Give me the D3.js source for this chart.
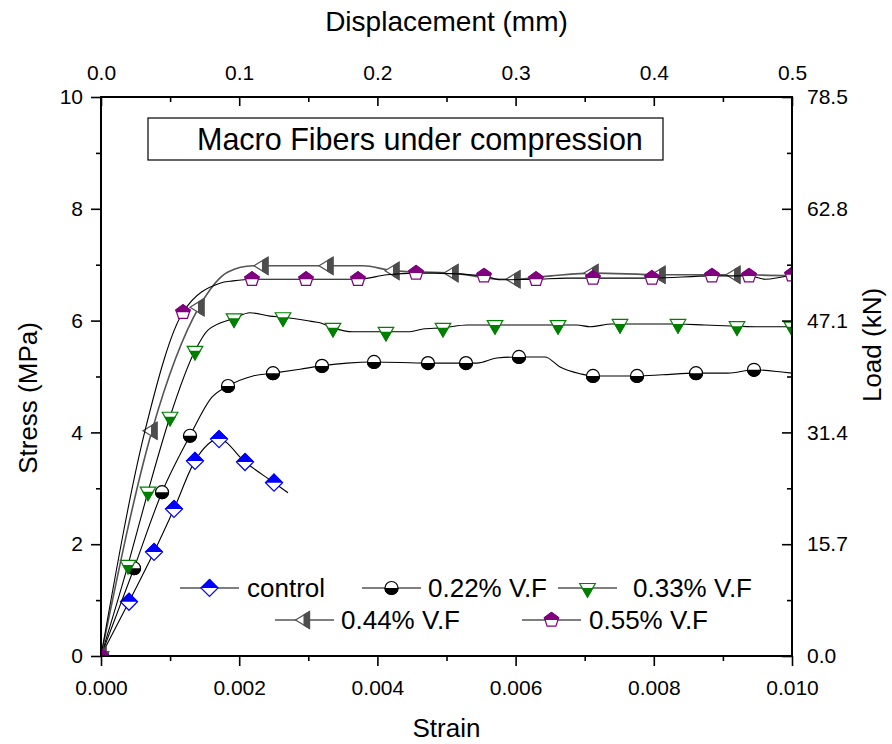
<!DOCTYPE html>
<html>
<head>
<meta charset="utf-8">
<script src="https://cdn.jsdelivr.net/npm/d3@7"></script>
<style>
body { margin: 0; background: #fff; }
text { font-family: "Liberation Sans", Arial, sans-serif; fill: #000; }
</style>
</head>
<body>
<script>
// [strain, stress (MPa), marker?]
const control = [
  [0, 0, 1], [0.000405, 0.97, 1], [0.000767, 1.86, 1], [0.001056, 2.63, 1],
  [0.00136, 3.49, 1], [0.001708, 3.88, 1], [0.002084, 3.47, 1], [0.002504, 3.10, 1],
  [0.002706, 2.92, 0]
];
const vf022 = [
  [0, 0, 1], [0.000478, 1.57, 1], [0.000883, 2.93, 1], [0.001288, 3.94, 1],
  [0.001606, 4.63, 0], [0.001838, 4.83, 1], [0.0022, 5.01, 0], [0.002489, 5.06, 1],
  [0.00288, 5.13, 0], [0.003198, 5.19, 1], [0.00356, 5.24, 0], [0.003951, 5.26, 1],
  [0.004732, 5.24, 1], [0.005282, 5.24, 1], [0.005441, 5.24, 0], [0.005731, 5.33, 0],
  [0.006049, 5.35, 1], [0.006425, 5.35, 0], [0.006643, 5.17, 0], [0.006932, 5.05, 0],
  [0.00712, 5.01, 1], [0.007757, 5.01, 1], [0.008119, 5.03, 0], [0.008611, 5.06, 1],
  [0.009074, 5.06, 0], [0.00945, 5.12, 1], [0.009855, 5.08, 0], [0.01, 5.06, 0]
];
const vf033 = [
  [0, 0, 1], [0.000391, 1.63, 1], [0.00068, 2.94, 1], [0.000999, 4.28, 1],
  [0.00136, 5.46, 1], [0.001548, 5.83, 0], [0.001925, 6.04, 1], [0.002156, 6.14, 0],
  [0.002446, 6.08, 0], [0.002634, 6.06, 1], [0.003025, 5.99, 0], [0.003169, 5.96, 0],
  [0.003357, 5.87, 1], [0.003647, 5.80, 0], [0.004124, 5.80, 1], [0.004472, 5.80, 0],
  [0.00466, 5.85, 0], [0.004949, 5.87, 1], [0.005297, 5.92, 0], [0.005702, 5.92, 1],
  [0.006614, 5.92, 1], [0.006889, 5.92, 0], [0.007077, 5.89, 0], [0.007395, 5.94, 0],
  [0.007511, 5.94, 1], [0.00835, 5.94, 1], [0.008741, 5.92, 0], [0.009204, 5.90, 1],
  [0.009465, 5.89, 0], [0.01, 5.89, 1]
];
const vf044 = [
  [0, 0, 1], [0.000738, 4.03, 1], [0.001418, 6.24, 1], [0.001838, 6.87, 0],
  [0.0022, 6.98, 0], [0.002344, 6.98, 1], [0.003285, 6.98, 1], [0.003792, 6.98, 0],
  [0.004139, 6.91, 0], [0.00424, 6.89, 1], [0.005094, 6.85, 1], [0.005774, 6.74, 0],
  [0.005991, 6.74, 1], [0.006511, 6.80, 0], [0.00712, 6.85, 1], [0.00809, 6.82, 1],
  [0.009175, 6.82, 1], [0.01, 6.80, 0]
];
const vf055 = [
  [0, 0, 1], [0.000637, 4.03, 0], [0.001187, 6.15, 1], [0.001722, 6.67, 0],
  [0.00191, 6.71, 0], [0.002185, 6.74, 1], [0.002692, 6.74, 0], [0.002967, 6.74, 1],
  [0.003719, 6.74, 1], [0.004139, 6.82, 0], [0.004559, 6.85, 1], [0.004805, 6.85, 0],
  [0.005543, 6.80, 1], [0.005774, 6.73, 0], [0.006295, 6.74, 1], [0.006744, 6.76, 0],
  [0.00712, 6.76, 1], [0.007974, 6.76, 1], [0.008842, 6.80, 1], [0.009378, 6.80, 1],
  [0.00961, 6.74, 0], [0.01, 6.82, 1]
];

const seriesNames = ['control', '0.22% V.F', '0.33% V.F', '0.44% V.F', '0.55% V.F'];

const strainTicks = [0, 0.002, 0.004, 0.006, 0.008, 0.010];
const strainMinor = [0.001, 0.003, 0.005, 0.007, 0.009];
const dispTicks = [0, 0.1, 0.2, 0.3, 0.4, 0.5];
const dispMinor = [0.05, 0.15, 0.25, 0.35, 0.45];
const stressTicks = [0, 2, 4, 6, 8, 10];
const stressMinor = [1, 3, 5, 7, 9];
const loadTicks = [0.0, 15.7, 31.4, 47.1, 62.8, 78.5];

const W = 892, H = 744;
const pL = 101, pR = 792, pT = 97, pB = 656;

const svg = d3.select('body').append('svg')
  .attr('width', W).attr('height', H);

const x = d3.scaleLinear().domain([0, 0.01]).range([pL, pR]);
const xTop = d3.scaleLinear().domain([0, 0.5]).range([pL, pR]);
const y = d3.scaleLinear().domain([0, 10]).range([pB, pT]);
const yRight = d3.scaleLinear().domain([0, 78.5]).range([pB, pT]);

const defs = svg.append('defs');
defs.append('clipPath').attr('id', 'plotclip')
  .append('rect').attr('x', pL).attr('y', pT)
  .attr('width', pR - pL).attr('height', pB - pT);
defs.append('clipPath').attr('id', 'halfTop')
  .append('rect').attr('x', -20).attr('y', -20).attr('width', 40).attr('height', 20);
defs.append('clipPath').attr('id', 'halfBottom')
  .append('rect').attr('x', -20).attr('y', 0).attr('width', 40).attr('height', 20);
defs.append('clipPath').attr('id', 'halfRight')
  .append('rect').attr('x', -1).attr('y', -20).attr('width', 21).attr('height', 40);

// marker shapes
function shapePath(type) {
  if (type === 'diamond') {
    const s = 8.5;
    return `M0,${-s}L${s},0L0,${s}L${-s},0Z`;
  }
  if (type === 'circle') {
    const r = 6.5;
    return `M${-r},0A${r},${r} 0 1 1 ${r},0A${r},${r} 0 1 1 ${-r},0Z`;
  }
  if (type === 'down') {
    const R = 9, a = R * Math.sqrt(3) / 2;
    return `M${-a},${-R / 2}L${a},${-R / 2}L0,${R}Z`;
  }
  if (type === 'left') {
    return 'M-9,0L5,-8.5L5,8.5Z';
  }
  // pentagon
  const R = 7.5;
  const pts = d3.range(5).map(k => {
    const ang = (-90 + 72 * k) * Math.PI / 180;
    return [R * Math.cos(ang), R * Math.sin(ang)];
  });
  return 'M' + pts.map(p => p.join(',')).join('L') + 'Z';
}

const styles = [
  { data: control, type: 'diamond', color: '#0000ff', fillHalf: 'halfTop', line: '#000', lw: 1.1 },
  { data: vf022, type: 'circle', color: '#000000', fillHalf: 'halfBottom', line: '#000', lw: 1.1 },
  { data: vf033, type: 'down', color: '#008000', fillHalf: 'halfBottom', line: '#000', lw: 1.1 },
  { data: vf044, type: 'left', color: '#4d4d4d', fillHalf: 'halfRight', line: '#555', lw: 1.6 },
  { data: vf055, type: 'pentagon', color: '#800080', fillHalf: 'halfTop', line: '#000', lw: 1.1 }
];

function drawMarker(g, st) {
  const p = shapePath(st.type);
  g.append('path').attr('d', p)
    .attr('fill', '#fff').attr('stroke', st.color).attr('stroke-width', 1.2);
  g.append('path').attr('d', p)
    .attr('fill', st.color).attr('stroke', st.color).attr('stroke-width', 1.2)
    .attr('clip-path', `url(#${st.fillHalf})`);
}

const line = d3.line()
  .x(d => x(d[0]))
  .y(d => y(d[1]))
  .curve(d3.curveMonotoneX);

const plot = svg.append('g').attr('clip-path', 'url(#plotclip)');

styles.forEach(st => {
  plot.append('path')
    .datum(st.data)
    .attr('d', line)
    .attr('fill', 'none')
    .attr('stroke', st.line)
    .attr('stroke-width', st.lw);
  plot.append('g')
    .selectAll('g')
    .data(st.data.filter(d => d[2]))
    .join('g')
    .attr('transform', d => `translate(${x(d[0])},${y(d[1])})`)
    .each(function() { drawMarker(d3.select(this), st); });
});

// axes
function styleAxis(g) {
  g.select('.domain').remove();
  g.selectAll('.tick line').attr('stroke', '#000').attr('stroke-width', 1.6);
  g.selectAll('.tick text').attr('font-size', 21).attr('fill', '#000')
    .attr('font-family', '"Liberation Sans", Arial, sans-serif');
}

svg.append('g').attr('transform', `translate(0,${pB})`)
  .call(d3.axisBottom(x).tickValues(strainTicks).tickFormat(d3.format('.3f'))
    .tickSize(10).tickPadding(14))
  .call(styleAxis);
svg.append('g').attr('transform', `translate(0,${pB})`)
  .call(d3.axisBottom(x).tickValues(strainMinor).tickFormat('').tickSize(5))
  .call(styleAxis);

svg.append('g').attr('transform', `translate(0,${pT})`)
  .call(d3.axisTop(xTop).tickValues(dispTicks).tickFormat(d3.format('.1f'))
    .tickSize(-9).tickPadding(17))
  .call(styleAxis);
svg.append('g').attr('transform', `translate(0,${pT})`)
  .call(d3.axisTop(xTop).tickValues(dispMinor).tickFormat('').tickSize(-5))
  .call(styleAxis);

svg.append('g').attr('transform', `translate(${pL},0)`)
  .call(d3.axisLeft(y).tickValues(stressTicks).tickFormat(d3.format('d'))
    .tickSize(10).tickPadding(8))
  .call(styleAxis);
svg.append('g').attr('transform', `translate(${pL},0)`)
  .call(d3.axisLeft(y).tickValues(stressMinor).tickFormat('').tickSize(5))
  .call(styleAxis);

svg.append('g').attr('transform', `translate(${pR},0)`)
  .call(d3.axisRight(yRight).tickValues(loadTicks).tickFormat(d3.format('.1f'))
    .tickSize(-10).tickPadding(15))
  .call(styleAxis);
svg.append('g').attr('transform', `translate(${pR},0)`)
  .call(d3.axisRight(y).tickValues(stressMinor).tickFormat('').tickSize(-5))
  .call(styleAxis);

// frame
svg.append('rect')
  .attr('x', pL).attr('y', pT)
  .attr('width', pR - pL).attr('height', pB - pT)
  .attr('fill', 'none').attr('stroke', '#000').attr('stroke-width', 2);

// axis titles
svg.append('text').attr('x', (pL + pR) / 2).attr('y', 737)
  .attr('text-anchor', 'middle').attr('font-size', 26).text('Strain');
svg.append('text').attr('x', (pL + pR) / 2).attr('y', 31)
  .attr('text-anchor', 'middle').attr('font-size', 28).text('Displacement (mm)');
svg.append('text')
  .attr('transform', 'translate(37,398) rotate(-90)')
  .attr('text-anchor', 'middle').attr('font-size', 26).text('Stress (MPa)');
svg.append('text')
  .attr('transform', 'translate(881,345) rotate(-90)')
  .attr('text-anchor', 'middle').attr('font-size', 26).text('Load (kN)');

// title box
svg.append('rect')
  .attr('x', 148).attr('y', 118).attr('width', 515).attr('height', 42)
  .attr('fill', '#fff').attr('stroke', '#000').attr('stroke-width', 1.2);
svg.append('text').attr('x', 197).attr('y', 150)
  .attr('font-size', 30.5).text('Macro Fibers under compression');

// legend
const legendPos = [
  { x1: 180, y: 588, tx: 247 },
  { x1: 362, y: 588, tx: 428 },
  { x1: 558, y: 588, tx: 633 },
  { x1: 275, y: 620, tx: 341 },
  { x1: 522, y: 620, tx: 589 }
];
const legend = svg.append('g');
seriesNames.forEach((name, i) => {
  const p = legendPos[i], st = styles[i];
  const g = legend.append('g');
  g.append('line')
    .attr('x1', p.x1).attr('x2', p.x1 + 59)
    .attr('y1', p.y).attr('y2', p.y)
    .attr('stroke', st.line).attr('stroke-width', st.lw);
  const m = g.append('g').attr('transform', `translate(${p.x1 + 29.5},${p.y})`);
  drawMarker(m, st);
  g.append('text').attr('x', p.tx).attr('y', p.y + 9)
    .attr('font-size', 26).text(name);
});
</script>
</body>
</html>
